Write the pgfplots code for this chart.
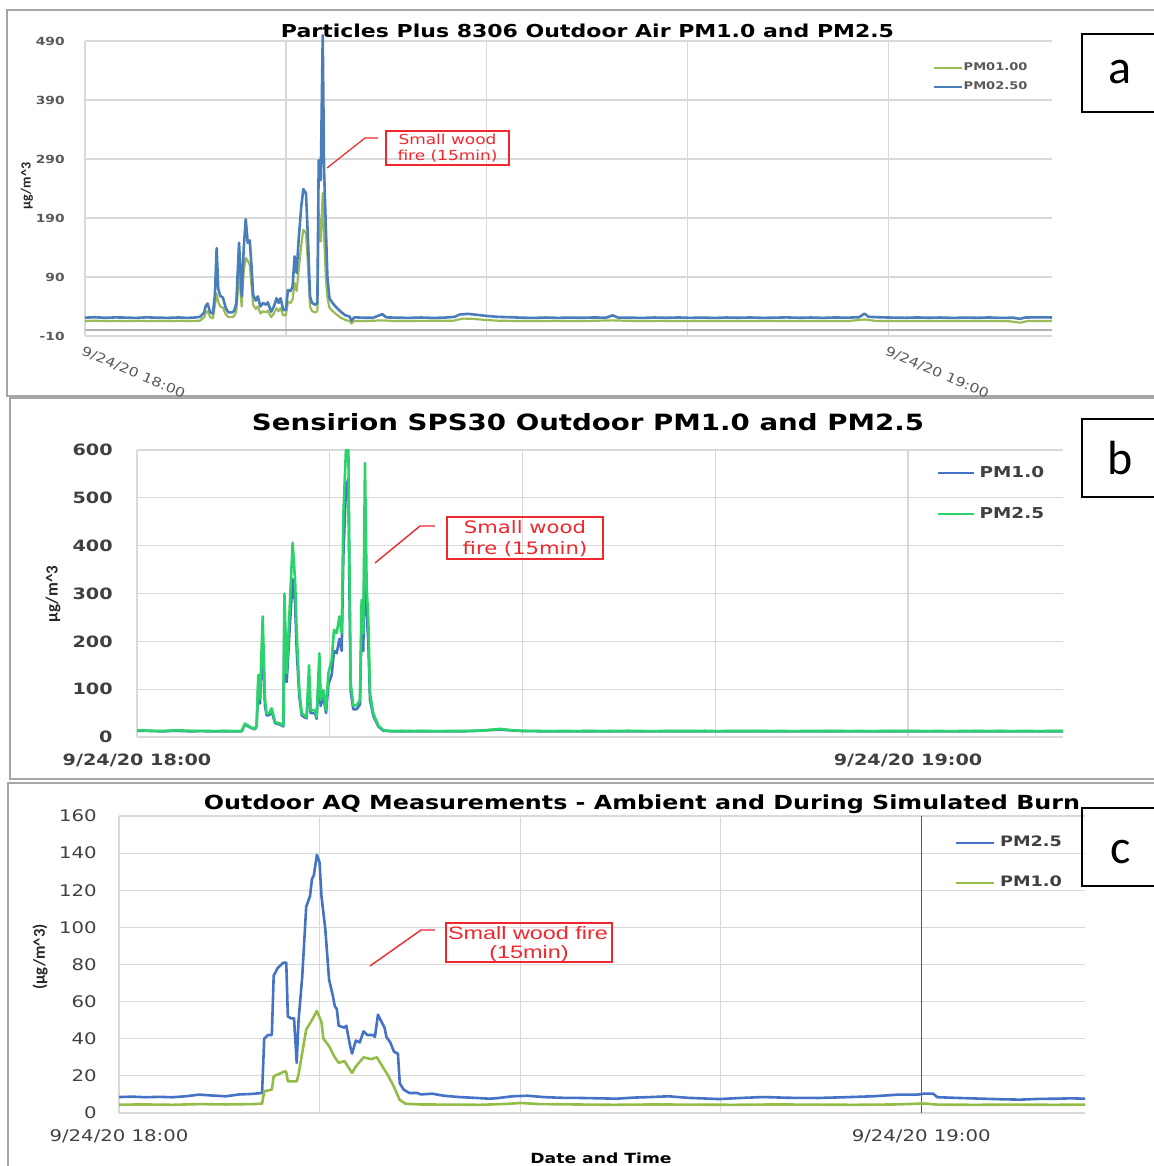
\documentclass[border=0pt]{standalone}
\usepackage{pgfplots}
\pgfplotsset{compat=1.18}
\usepackage{graphicx}
\usepackage{fontspec}
\setmainfont{DejaVu Sans}
\newfontfamily\carl{Carlito}
\newfontfamily\arial{Liberation Sans}
\newcommand{\sx}[1]{\scalebox{1.23}[1]{#1}}
\newcommand{\fs}[1]{\fontsize{#1}{#1}\selectfont}
\definecolor{ablue}{HTML}{4A7EBB}
\definecolor{agreen}{HTML}{9BBB59}
\definecolor{bblue}{HTML}{4472C4}
\definecolor{bgreen}{HTML}{2BD46B}
\definecolor{cblue}{HTML}{4472C4}
\definecolor{cgreen}{HTML}{94BC48}
\definecolor{gridc}{HTML}{D9D9D9}
\definecolor{tickc}{HTML}{404040}
\definecolor{tickca}{HTML}{595959}
\definecolor{annred}{HTML}{F0282D}
\definecolor{framec}{HTML}{A6A6A6}
\pgfplotsset{excel/.style={scale only axis, anchor=south west, enlargelimits=false,
  axis x line=bottom, axis y line=left, axis line style={draw=gridc, line width=0.6pt, -},
  major tick length=0pt, minor tick length=0pt,
  xmajorgrids, xminorgrids, ymajorgrids,
  major grid style={draw=gridc, line width=0.6pt},
  minor grid style={draw=gridc, line width=0.6pt},
  legend cell align=left,
  every axis plot/.append style={line join=round}}}
\begin{document}
\begin{tikzpicture}
\useasboundingbox (0pt,0pt) rectangle (577pt,583pt);
\begin{scope}[shift={(0pt,583pt)}, x=0.5pt, y=-0.5pt]
\draw[framec, line width=0.8pt] (7,10) rectangle (1170,396);
\draw[framec, line width=0.8pt] (10,398) rectangle (1170,779);
\draw[framec, line width=0.8pt] (8,783) rectangle (1170,1180);
\end{scope}

% ---------------- panel a
\begin{axis}[excel, at={(42.5pt,415pt)}, width=483.5pt, height=147.5pt,
  xmin=0, xmax=72.2, ymin=-10, ymax=490, clip=false,
  x axis line style={draw=none},
  ytick={-10,90,190,290,390,490},
  yticklabels={\sx{-10},\sx{90},\sx{190},\sx{290},\sx{390},\sx{490}},
  yticklabel style={font=\fs{5.6pt}\bfseries, text=tickca, anchor=east, inner sep=0pt, xshift=-10pt},
  xtick={0,60}, minor xtick={15,30,45},
  xticklabels={{\sx{9/24/20 18:00}},{\sx{9/24/20 19:00}}},
  xticklabel style={font=\fs{6.4pt}, text=tickca, rotate=-23, anchor=north west, inner sep=0pt, yshift=-4.5pt, xshift=1.5pt},
  legend style={at={(rel axis cs:0.876,0.877)}, anchor=west, draw=none, fill=none, inner sep=0pt,
    font=\fs{5.3pt}\bfseries, text=tickca, nodes={inner sep=0pt}, column sep=0.5pt, row sep=4pt},
  legend image code/.code={\draw[#1, line width=1.1pt] (0pt,0pt) -- (14pt,0pt);}
]
\addplot[gray!60, line width=0.6pt, forget plot] coordinates {(0,0) (72.2,0)};
\addplot[agreen, line width=1.1pt] table {
t v
0 15.5
0.8 15.8
1.6 15.2
2.4 15.6
3.2 15.3
4.0 15.7
4.8 15.2
5.6 15.6
6.4 15.3
7.2 15.7
8.0 15.2
8.6 16
8.9 22
9.0 29
9.15 32
9.35 22
9.55 20
9.7 42
9.83 62
9.95 48
10.1 40
10.3 38
10.5 27
10.7 22
11.0 22
11.15 24
11.3 32
11.5 95
11.7 40
11.85 100
12.0 122
12.15 118
12.3 110
12.45 72
12.55 43
12.75 36
12.9 40
13.1 28
13.3 32
13.5 30
13.65 33
13.9 22
14.1 28
14.3 37
14.45 32
14.6 37
14.8 25
15.0 25
15.15 48
15.35 46
15.5 52
15.65 80
15.8 66
15.95 100
16.15 145
16.3 170
16.5 165
16.65 110
16.8 40
16.95 32
17.2 30
17.35 32
17.45 200
17.6 150
17.75 232
17.85 160
17.98 90
18.1 55
18.25 38
18.45 33
18.7 28
19.1 21
19.45 17
19.75 15.5
19.9 11
20.1 15.5
21 15.3
22.2 16.5
23 15.4
25 15.6
27.5 15.8
28.2 19.5
29 19
30 17
31 15.8
33 15.3
35 15.6
37 15.2
39.4 16.5
41 15.4
43 15.6
45 15.2
47 15.5
49 15.3
51 15.6
53 15.2
55 15.5
57 15.3
58.2 18
59 15.6
61 15.2
63 15.5
65 15.3
67 15.5
69 15.0
69.8 12.5
70.4 15.3
72.2 15.4
};
\addlegendentry{\sx{PM01.00}}
\addplot[ablue, line width=1.3pt] table {
t v
0 21
0.7 21.8
1.5 20.8
2.3 21.5
3.0 21.2
3.8 20.6
4.6 21.6
5.4 21.0
6.2 20.7
7.0 21.4
7.6 20.6
8.2 21.3
8.6 22.5
8.9 30
9.0 40
9.15 45
9.35 30
9.55 28
9.7 60
9.83 139
9.95 70
10.1 58
10.3 55
10.5 38
10.7 30
11.0 30
11.15 33
11.3 46
11.5 148
11.7 57
11.85 138
12.0 188
12.15 148
12.3 152
12.45 102
12.55 60
12.75 50
12.9 57
13.1 40
13.3 46
13.5 43
13.65 47
13.9 31
14.1 40
14.3 54
14.45 46
14.6 54
14.8 34
15.0 34
15.15 68
15.35 66
15.5 74
15.65 125
15.8 97
15.95 153
16.15 210
16.3 239
16.5 232
16.65 153
16.8 57
16.95 46
17.2 43
17.35 46
17.45 288
17.6 254
17.75 500
17.85 271
17.98 175
18.1 90
18.25 54
18.45 47
18.7 40
19.1 31
19.45 25
19.75 23
19.9 16
20.1 21.6
20.8 21
21.5 20.8
22.2 27
22.5 21.5
23.3 21
24.2 20.7
25.1 21.3
26.0 20.6
26.9 21.2
27.6 22.5
28.0 26.5
28.6 27.5
29.2 26
30.0 24
30.8 22.5
31.7 21.8
32.6 21
33.5 20.6
34.4 21.3
35.3 20.7
36.2 21.2
37.1 20.8
38.0 21.4
38.9 21
39.4 25
39.8 21.2
40.7 21
41.6 20.6
42.5 21.3
43.4 20.8
44.3 21.4
45.2 20.7
46.1 21.2
47.0 20.6
47.9 21.3
48.8 20.9
49.7 21.4
50.6 20.7
51.5 21.1
52.4 21.5
53.3 20.8
54.2 21.3
55.1 20.7
56.0 21.4
56.9 21.0
57.8 21.8
58.2 28
58.5 22.5
59.4 21.6
60.3 21.2
61.2 20.8
62.1 21.4
63.0 20.9
63.9 21.3
64.8 20.6
65.7 21.2
66.6 20.8
67.5 21.4
68.4 20.6
69.3 21.0
69.8 19
70.2 21.3
71.1 21.6
72.2 21.4
};
\addlegendentry{\sx{PM02.50}}
\end{axis}

% ---------------- panel b
\begin{axis}[excel, at={(68.5pt,214.5pt)}, width=463pt, height=143.5pt,
  xmin=0, xmax=72.06, ymin=0, ymax=600,
  ytick={0,100,200,300,400,500,600},
  yticklabels={\sx{0},\sx{100},\sx{200},\sx{300},\sx{400},\sx{500},\sx{600}},
  yticklabel style={font=\fs{7.8pt}\bfseries, text=tickc, anchor=east, inner sep=0pt, xshift=-12pt},
  xtick={0,60}, minor xtick={15,30,45},
  xticklabels={{\sx{9/24/20 18:00}},{\sx{9/24/20 19:00}}},
  xticklabel style={font=\fs{7.8pt}\bfseries, text=tickc, anchor=north, inner sep=0pt, yshift=-8.5pt},
  legend style={at={(rel axis cs:0.863,0.847)}, anchor=west, draw=none, fill=none, inner sep=0pt,
    font=\fs{7.5pt}\bfseries, text=tickc, nodes={inner sep=0pt}, column sep=2.5pt, row sep=13.5pt},
  legend image code/.code={\draw[#1, line width=1pt] (0pt,0pt) -- (18pt,0pt);}
]
\addplot[bblue, line width=1.3pt] table {
t v
0 13.2
1.0 12.6
2.0 11.8
3.0 13
4.0 12
5.0 12.2
6.0 11.8
7.0 12
8.15 12
8.40 26
8.79 20
9.18 16
9.31 23
9.44 110
9.57 70
9.78 200
9.96 65
10.09 45
10.30 46
10.48 54
10.74 29
11.13 26
11.39 22
11.47 250
11.65 115
11.91 240
12.11 330
12.30 280
12.43 180
12.63 85
12.82 45
13.20 39
13.39 125
13.51 50
13.85 50
13.98 38
14.19 145
14.29 65
14.50 85
14.71 50
14.89 110
15.15 130
15.33 180
15.54 175
15.75 205
15.93 180
16.06 380
16.26 520
16.45 540
16.52 330
16.63 95
16.83 58
17.09 58
17.35 68
17.48 240
17.61 180
17.74 470
17.87 260
18.00 200
18.13 78
18.39 44
18.78 22
19.17 13
20 11.8
22 12
24 11.7
26 12.2
28.2 15.5
30 12.3
33 11.8
36 12
39 11.7
42 12
45 11.8
48 12.1
51 11.7
54 12
57 11.8
60 12.1
63 11.7
66 12
69 11.8
72.06 12
};
\addlegendentry{\sx{PM1.0}}
\addplot[bgreen, line width=1.3pt] table {
t v
0 14
0.8 13.5
1.6 12.5
2.4 13
3.0 14
3.6 13.5
4.4 12.5
5.2 12.8
6.0 12.3
6.8 12.6
7.6 12.2
8.15 12.5
8.40 28
8.79 21
9.18 17
9.31 25
9.44 130
9.57 80
9.78 252
9.96 77
10.09 49
10.30 50
10.48 60
10.74 31
11.13 28
11.39 24
11.47 300
11.65 133
11.91 287
12.11 406
12.30 329
12.43 217
12.63 98
12.82 49
13.20 42
13.39 150
13.51 56
13.85 56
13.98 42
14.19 175
14.29 77
14.50 98
14.71 56
14.89 133
15.15 161
15.33 224
15.54 217
15.75 252
15.93 217
16.06 465
16.26 600
16.45 600
16.52 392
16.63 112
16.83 66
17.09 66
17.35 77
17.48 287
17.61 217
17.74 573
17.87 315
18.00 245
18.13 91
18.39 49
18.78 24
19.17 14
19.8 12.5
20.6 13
21.5 12.3
22.4 12.8
23.3 12.2
24.2 12.6
25.1 12.4
26.0 13
27.0 13.5
28.2 17
29.2 14
30.2 13
31.2 12.5
32.2 12.2
33.2 12.8
34.2 12.3
35.2 12.6
36.2 12.2
37.2 12.7
38.2 13
39.2 12.5
40.2 12.2
41.2 12.8
42.2 12.4
43.2 12.6
44.2 13
45.2 12.3
46.2 12.7
47.2 12.4
48.2 12.9
49.2 12.3
50.2 12.6
51.2 12.2
52.2 12.8
53.2 12.4
54.2 12.7
55.2 12.3
56.2 12.6
57.2 12.2
58.2 12.7
59.2 12.4
60.2 12.8
61.2 12.2
62.2 12.6
63.2 12.3
64.2 12.5
65.2 12.8
66.2 12.2
67.2 12.6
68.2 12.3
69.2 12.7
70.2 12.2
71.2 12.6
72.06 12.5
};
\addlegendentry{\sx{PM2.5}}
\end{axis}

% ---------------- panel c
\begin{axis}[excel, at={(59.5pt,26.5pt)}, width=483pt, height=148.5pt,
  xmin=0, xmax=72.25, ymin=0, ymax=160,
  ytick={0,20,40,60,80,100,120,140,160},
  yticklabels={\sx{0},\sx{20},\sx{40},\sx{60},\sx{80},\sx{100},\sx{120},\sx{140},\sx{160}},
  yticklabel style={font=\fs{8pt}, text=tickc, anchor=east, inner sep=0pt, xshift=-11pt},
  xtick={0}, minor xtick={15,30,45},
  xticklabels={{\sx{9/24/20 18:00}}},
  extra x ticks={60}, extra x tick labels={{\sx{9/24/20 19:00}}},
  extra x tick style={major grid style={draw=black!65, line width=0.7pt}},
  xticklabel style={font=\fs{8pt}, text=tickc, anchor=north, inner sep=0pt, yshift=-8pt},
  legend style={at={(rel axis cs:0.865,0.843)}, anchor=west, draw=none, fill=none, inner sep=0pt,
    font=\fs{7.2pt}\bfseries, text=tickc, nodes={inner sep=0pt}, column sep=2.5pt, row sep=13.2pt},
  legend image code/.code={\draw[#1, line width=1pt] (0pt,0pt) -- (19pt,0pt);}
]
\addplot[cblue, line width=1.3pt] table {
t v
0 8.6
1 8.8
2 8.5
3 8.7
4 8.5
5 9.0
6 9.9
7 9.4
8 9.0
9 10.0
10 10.3
10.7 10.8
10.86 40
11.14 42
11.43 42
11.57 74
11.86 78
12.29 81
12.51 81
12.63 52
12.86 51
13.09 51
13.29 27
13.43 50
13.71 74
14.0 111
14.29 117
14.43 126
14.57 128
14.8 139
15.0 135
15.14 117
15.43 99
15.71 72
16.0 63
16.14 57.5
16.29 56
16.43 47
16.86 46
17.0 47
17.29 36
17.43 32
17.71 39
18.0 38
18.29 44
18.57 42
19.0 42
19.14 41
19.37 53
19.57 50
19.86 46
20.0 41
20.29 38
20.57 33
20.86 32
21.0 16
21.29 12.6
21.71 10.8
22.29 10.8
22.57 10
23.43 10.4
24.29 9.3
25.43 8.6
26.5 8.2
27.71 7.7
28.29 8
29.43 9
30.57 9.3
31.71 8.6
33 8.2
34.5 8.1
36 7.9
37.2 7.7
38.5 8.3
39.8 8.6
41.1 9
42.5 8.2
44.9 7.5
46.5 8.1
48.2 8.6
50 8.2
52.3 8.1
54.3 8.5
56.4 9
58.3 9.9
59.7 9.9
60.2 10.4
60.9 10.4
61.2 8.5
62.8 8.1
64.6 7.7
66 7.4
67.4 7.2
68.8 7.6
70.1 7.7
71.2 7.9
72.25 7.7
};
\addlegendentry{\sx{PM2.5}}
\addplot[cgreen, line width=1.3pt] table {
t v
0 4.5
2 4.6
4 4.4
6 4.8
8 4.6
10 4.8
10.7 5
10.86 11.7
11.43 12.6
11.57 19.8
11.86 20.7
12.43 22.5
12.51 22
12.63 17
13.29 17
13.43 20.7
14.0 45
14.43 50
14.8 55
15.14 49
15.29 40
15.71 36
16.14 30
16.43 27
16.86 28
17.43 21.6
17.71 25
18.29 30
18.86 29
19.29 30
19.71 25
20.14 20
20.57 14
21.0 7
21.43 5
22.5 4.6
25 4.5
27 4.4
29 4.9
30 5.4
31.5 4.8
34 4.6
37 4.4
40 4.6
43 4.5
46 4.4
49 4.6
52 4.5
55 4.4
58 4.6
60.3 5.1
61.2 4.5
64 4.4
67 4.5
70 4.4
72.25 4.5
};
\addlegendentry{\sx{PM1.0}}
\end{axis}

\begin{scope}[shift={(0pt,583pt)}, x=0.5pt, y=-0.5pt]
% titles
\node[anchor=base, font=\bfseries\fs{8.9pt}] at (587.5,37.5) {\resizebox{306.5pt}{\height}{Particles Plus 8306 Outdoor Air PM1.0 and PM2.5}};
\node[anchor=base, font=\bfseries\fs{11.2pt}] at (588,431) {\resizebox{336pt}{\height}{Sensirion SPS30 Outdoor PM1.0 and PM2.5}};
\node[anchor=base, font=\bfseries\fs{9.7pt}] at (642,810) {\resizebox{438pt}{\height}{Outdoor AQ Measurements - Ambient and During Simulated Burn}};
\node[anchor=base, font=\bfseries\fs{7pt}] at (601,1163) {\sx{Date and Time}};
% y labels
\node[rotate=90, font=\carl\bfseries\fs{7pt}, text=black!85] at (27,186) {µg/m\textasciicircum 3};
\node[rotate=90, font=\carl\bfseries\fs{8.5pt}, text=black!85] at (53,594) {µg/m\textasciicircum 3};
\node[rotate=90, font=\carl\bfseries\fs{8.3pt}, text=black!85] at (40,957) {(µg/m\textasciicircum 3)};
% annotations
\draw[annred, line width=0.6pt] (327,168) -- (365,138) -- (378,138);
\draw[annred, line width=0.6pt] (386,131) rectangle (509,165);
\node[anchor=base, text=annred, font=\fs{6.9pt}] at (447.5,145) {\sx{Small wood}};
\node[anchor=base, text=annred, font=\fs{6.9pt}] at (447.5,161) {\sx{fire (15min)}};
\draw[annred, line width=0.7pt] (375,563) -- (420,526) -- (435,526);
\draw[annred, line width=0.7pt] (447,517) rectangle (603,559);
\node[anchor=base, text=annred, font=\fs{8.6pt}] at (525,534) {\sx{Small wood}};
\node[anchor=base, text=annred, font=\fs{8.6pt}] at (525,555) {\sx{fire (15min)}};
\draw[annred, line width=0.7pt] (370,966) -- (421,930) -- (435,930);
\draw[annred, line width=0.7pt] (446,923) rectangle (612,962);
\node[anchor=base, text=annred, font=\arial\fs{9pt}] at (528,940) {\scalebox{1.3}[1]{Small wood fire}};
\node[anchor=base, text=annred, font=\arial\fs{9pt}] at (529,959) {\scalebox{1.3}[1]{(15min)}};
% panel letters
\draw[black, line width=0.9pt] (1082,34) rectangle (1170,112);
\node[font=\carl\fs{24pt}] at (1120,72) {a};
\draw[black, line width=0.9pt] (1082,419) rectangle (1170,497);
\node[font=\carl\fs{24pt}] at (1120,458) {b};
\draw[black, line width=0.9pt] (1082,808) rectangle (1170,886);
\node[font=\carl\fs{24pt}] at (1121,852) {c};
\end{scope}
\end{tikzpicture}
\end{document}
